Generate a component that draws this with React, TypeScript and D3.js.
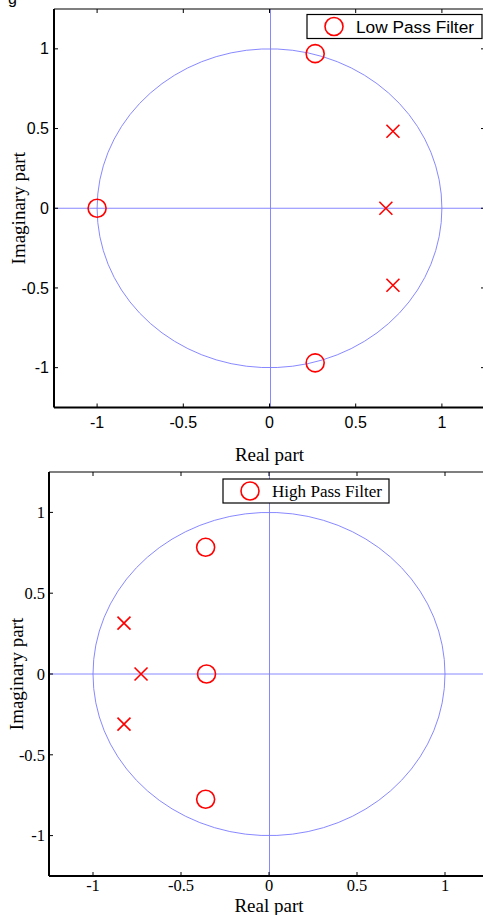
import * as d3 from 'd3';

const ticks = [-1, -0.5, 0, 0.5, 1];
const tickLabels = ['-1', '-0.5', '0', '0.5', '1'];

// low pass filter
const lpZerosRe = [-1, 0.265, 0.265];
const lpZerosIm = [0, 0.97, -0.97];
const lpPolesRe = [0.675, 0.716, 0.716];
const lpPolesIm = [0, 0.483, -0.483];

// high pass filter
const hpZerosRe = [-0.36, -0.355, -0.36];
const hpZerosIm = [0.784, 0, -0.775];
const hpPolesRe = [-0.824, -0.727, -0.824];
const hpPolesIm = [0.315, 0, -0.31];

const red = '#ff0000';
const blue = '#7b7bff';

type PaneProps = {
  x0: number; x1: number; y0: number; y1: number;
  zr: number[]; zi: number[]; pr: number[]; pi: number[];
  legend: string; legendBox: [number, number, number, number];
  tickFont: string; tickSize: number; serif: boolean;
  xTickY: number; xLabelY: number; yTickX: number; yLabelX: number;
};

const Pane = (p: PaneProps) => {
  const x = d3.scaleLinear().domain([-1.25, 1.25]).range([p.x0, p.x1]);
  const y = d3.scaleLinear().domain([-1.25, 1.25]).range([p.y1, p.y0]);
  const theta = d3.range(0, 2 * Math.PI + 0.01, (2 * Math.PI) / 70);
  const circle = d3.line<number>().x(t => x(Math.cos(t))).y(t => y(Math.sin(t)))(theta) || '';
  const labelFont = 'Liberation Serif, Times New Roman, serif';
  const [lx, ly, lw, lh] = p.legendBox;
  const zx = Math.round(x(0)) + 0.5;
  return (
    <g>
      <path d={circle} fill="none" stroke={blue} strokeWidth={0.9} />
      <line x1={p.x0} x2={p.x1} y1={y(0)} y2={y(0)} stroke={blue} strokeWidth={0.9} />
      <line x1={zx} x2={zx} y1={p.y0} y2={p.y1} stroke={blue} strokeWidth={0.9} />
      {p.zr.map((v, i) => (
        <circle key={'z' + i} cx={x(v)} cy={y(p.zi[i])} r={9} fill="none" stroke={red} strokeWidth={1.6} />
      ))}
      {p.pr.map((v, i) => {
        const cx = x(v), cy = y(p.pi[i]), s = 6.5;
        return (
          <path key={'p' + i} d={`M${cx - s},${cy - s}L${cx + s},${cy + s}M${cx - s},${cy + s}L${cx + s},${cy - s}`}
            stroke={red} strokeWidth={1.6} fill="none" />
        );
      })}
      {/* axes box */}
      <line x1={p.x0} x2={p.x1} y1={p.y0} y2={p.y0} stroke="#000" strokeWidth={1.2} />
      <line x1={p.x0} x2={p.x1} y1={p.y1} y2={p.y1} stroke="#000" strokeWidth={2} />
      <line x1={p.x0} x2={p.x0} y1={p.y0} y2={p.y1} stroke="#000" strokeWidth={2} />
      <line x1={p.x1} x2={p.x1} y1={p.y0} y2={p.y1} stroke="#000" strokeWidth={1.2} />
      {ticks.map((t, i) => (
        <g key={'t' + i}>
          <line x1={x(t)} x2={x(t)} y1={p.y1} y2={p.y1 - 4} stroke="#000" strokeWidth={1} />
          <line x1={x(t)} x2={x(t)} y1={p.y0} y2={p.y0 + 4} stroke="#000" strokeWidth={1} />
          <line x1={p.x0} x2={p.x0 + 4} y1={y(t)} y2={y(t)} stroke="#000" strokeWidth={1} />
          <line x1={p.x1} x2={p.x1 - 4} y1={y(t)} y2={y(t)} stroke="#000" strokeWidth={1} />
          <text x={x(t)} y={p.xTickY} textAnchor="middle" fontFamily={p.tickFont} fontSize={p.tickSize}>{tickLabels[i]}</text>
          <text x={p.yTickX} y={y(t) + p.tickSize * 0.35} textAnchor="end" fontFamily={p.tickFont} fontSize={p.tickSize}>{tickLabels[i]}</text>
        </g>
      ))}
      <text x={x(0)} y={p.xLabelY} textAnchor="middle" fontFamily={labelFont} fontSize={19}>Real part</text>
      <text transform={`translate(${p.yLabelX},${y(0)}) rotate(-90)`} textAnchor="middle" fontFamily={labelFont} fontSize={19}>Imaginary part</text>
      {/* legend */}
      <rect x={lx} y={ly} width={lw} height={lh} fill="#fff" stroke="#000" strokeWidth={1.2} />
      <circle cx={lx + 27} cy={ly + lh / 2} r={9} fill="none" stroke={red} strokeWidth={1.6} />
      <text x={lx + 49} y={ly + lh / 2 + 6} fontFamily={p.serif ? labelFont : p.tickFont} fontSize={p.serif ? 17 : 16}
        textLength={p.serif ? 110 : 118} lengthAdjust="spacingAndGlyphs">{p.legend}</text>
    </g>
  );
};

export default function App() {
  const sans = 'Liberation Sans, Arial, sans-serif';
  const serif = 'Liberation Serif, Times New Roman, serif';
  return (
    <svg width={483} height={915} style={{ position: 'absolute', left: 0, top: 0, background: '#fff' }}>
      <rect width={483} height={915} fill="#fff" />
      <text x={8} y={4} fontFamily={sans} fontSize={16}>g</text>
      <Pane x0={54} x1={485} y0={9} y1={407.5} zr={lpZerosRe} zi={lpZerosIm} pr={lpPolesRe} pi={lpPolesIm}
        legend="Low Pass Filter" legendBox={[307, 14.5, 175, 24]} tickFont={sans} tickSize={16} serif={false}
        xTickY={428} xLabelY={461} yTickX={49} yLabelX={25} />
      <Pane x0={49} x1={489} y0={472} y1={876} zr={hpZerosRe} zi={hpZerosIm} pr={hpPolesRe} pi={hpPolesIm}
        legend="High Pass Filter" legendBox={[223, 479, 166, 24]} tickFont={serif} tickSize={16.5} serif={true}
        xTickY={891} xLabelY={912} yTickX={45} yLabelX={23} />
    </svg>
  );
}
